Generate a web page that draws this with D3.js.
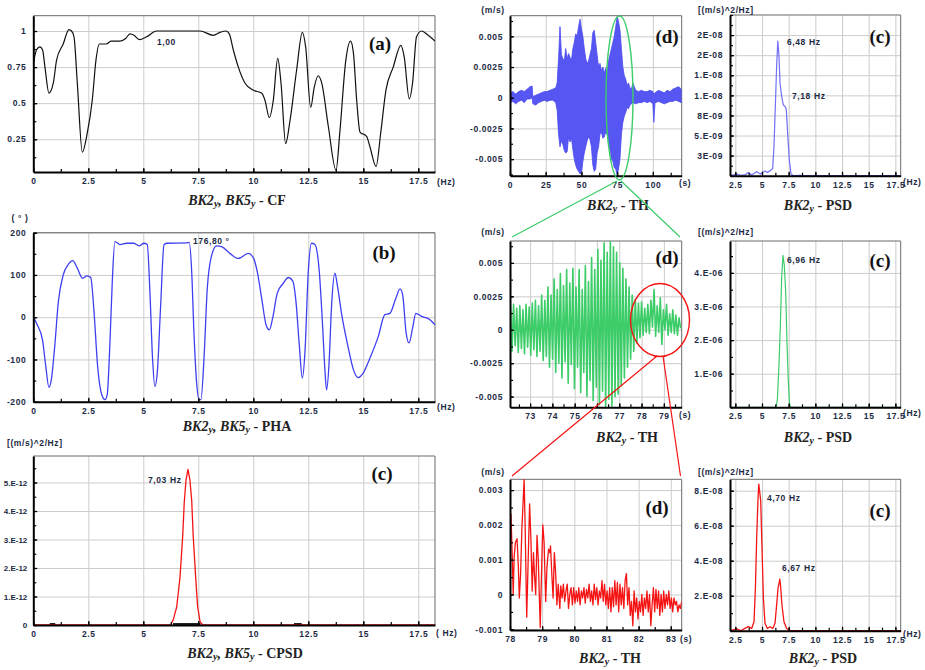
<!DOCTYPE html>
<html>
<head>
<meta charset="utf-8">
<script src="https://cdn.jsdelivr.net/npm/d3@7"></script>
<style>
  body { margin: 0; background: #fff; }
  svg { display: block; }
  .grid line { stroke: #cccccc; stroke-width: 1; }
  .frame { fill: none; stroke: #6a6a6a; stroke-width: 1; }
  .ax .domain { stroke: #000; stroke-width: 2; }
  .ax line { stroke: #000; stroke-width: 1.2; }
  .ax text, .lbl {
    font-family: "Liberation Sans", Arial, sans-serif;
    font-weight: bold; font-size: 8.5px; letter-spacing: 0.6px; fill: #1c2a44;
  }
  .ax.tight text { letter-spacing: 0; font-size: 8px; }
  .tag { font-family: "Liberation Serif", "Times New Roman", serif; font-weight: bold; font-size: 19px; fill: #111; }
  .cap { font-family: "Liberation Serif", "Times New Roman", serif; font-weight: bold; font-size: 14px; fill: #222; }
</style>
</head>
<body>
<svg id="fig" width="925" height="670"></svg>
<script>
// ---- data ----

// (a) coherence function, Hz -> CF
const cfPoints = [[0,0.775],[0.15,0.87],[0.3,0.89],[0.42,0.87],[0.53,0.75],[0.71,0.57],[0.91,0.64],[1.06,0.8],
  [1.36,0.91],[1.62,1.01],[1.74,1.0],[1.85,0.96],[2.0,0.64],[2.23,0.16],[2.45,0.29],[2.68,0.52],[2.85,0.8],
  [3.0,0.91],[3.21,0.91],[3.33,0.91],[3.53,0.93],[3.94,0.93],[4.21,0.95],[4.39,0.98],[4.58,0.97],[4.82,0.94],
  [5.15,0.96],[5.61,1.0],[7.58,1.0],[8.18,0.97],[8.48,0.99],[8.76,1.0],[8.91,0.98],[9.09,0.87],[9.32,0.75],
  [9.62,0.64],[10.0,0.59],[10.38,0.57],[10.53,0.52],[10.73,0.4],[10.91,0.52],[11.11,0.81],[11.26,0.64],
  [11.47,0.22],[11.67,0.38],[11.97,0.73],[12.23,0.99],[12.38,0.89],[12.61,0.47],[12.77,0.61],[12.95,0.69],
  [13.11,0.64],[13.41,0.34],[13.76,0.035],[13.94,0.31],[14.2,0.79],[14.42,0.93],[14.55,0.85],[14.7,0.52],
  [14.85,0.3],[15.15,0.27],[15.3,0.2],[15.58,0.06],[15.79,0.29],[16.03,0.59],[16.36,0.75],[16.71,0.9],
  [16.86,0.82],[17.09,0.53],[17.24,0.64],[17.42,0.96],[17.65,1.0],[17.95,0.97],[18.26,0.93]];

// (b) phase, Hz -> degrees
const phaPoints = [[0,0],[0.18,-18],[0.42,-54],[0.56,-113],[0.71,-166],[0.83,-144],[0.98,-65],[1.14,37],
  [1.36,100],[1.59,125],[1.79,134],[2.0,116],[2.24,92],[2.45,98],[2.61,94],[2.76,13],[2.92,-113],[3.11,-183],
  [3.26,-195],[3.36,-183],[3.48,-65],[3.59,84],[3.71,179],[3.94,172],[4.24,175],[4.55,175],[4.82,169],
  [5.03,175],[5.18,172],[5.3,61],[5.42,-97],[5.53,-164],[5.64,-128],[5.79,29],[5.94,171],[6.06,175],
  [6.97,176],[7.09,177],[7.2,108],[7.3,-34],[7.42,-152],[7.53,-195],[7.62,-195],[7.76,-97],[7.91,69],
  [8.11,147],[8.33,169],[8.56,167],[8.94,151],[9.32,139],[9.77,151],[10.0,141],[10.18,108],[10.38,45],
  [10.58,-18],[10.73,-30],[10.88,-2],[11.09,57],[11.36,80],[11.59,94],[11.79,86],[11.94,37],[12.09,-65],
  [12.23,-144],[12.35,-81],[12.5,108],[12.65,175],[12.8,172],[13.0,108],[13.14,-10],[13.26,-128],
  [13.33,-172],[13.44,-113],[13.56,29],[13.71,104],[13.82,76],[14.02,6],[14.32,-73],[14.55,-124],
  [14.77,-143],[15.0,-132],[15.3,-97],[15.68,-46],[15.98,6],[16.21,9],[16.48,45],[16.67,67],[16.79,53],
  [16.94,-34],[17.08,-61],[17.24,-26],[17.39,9],[17.65,2],[18.03,-6],[18.26,-18]];

// (c) cross PSD, Hz -> (m/s)^2/Hz
const cpsdPoints = [[0,0],[6.24,0],[6.36,0.18e-12],[6.52,0.64e-12],[6.67,1.69e-12],[6.79,3.1e-12],
  [6.86,4.27e-12],[6.94,5.08e-12],[7.03,5.46e-12],[7.12,5.08e-12],[7.2,4.38e-12],[7.27,3.1e-12],
  [7.38,1.69e-12],[7.47,0.64e-12],[7.58,0.12e-12],[7.7,0],[18.26,0]];
const cpsdDarkSpans = [[0.75,1.0],[6.35,7.6],[11.85,12.2]];

// (d) time history BK2y, full record (envelope, x1e-3 m/s)
const thTopTime  = [0,2,4,6,8,10,12,14,15.5,16,18,20,22,24,26,28,30,32,33,34,35,36,37,38,39,40,41,42,43,44,45,46,47,48,49,50,
  51,52,53,54,55,56,57,58,59,60,61,62,63,64,65,66,67,68,69,70,71,72,73,74,75,76,77,78,79,80,81,82,83,84,85,86,88,90,92,94,
  96,98,100,100.7,101.5,104,106,108,110,112,114,116,118,120];
const thTopUpper = [0.4,0.5,0.3,0.5,0.6,0.5,0.7,0.9,0.95,0.1,0.2,0.3,0.4,0.5,0.5,0.6,0.7,0.8,1.2,3.2,5.8,3.5,3.2,3.0,4.0,3.2,
  3.6,3.3,3.0,4.0,4.5,5.2,5.0,5.8,6.4,5.6,5.0,4.0,3.2,2.8,3.0,3.5,4.0,5.3,5.5,4.5,3.5,2.5,2.8,2.2,2.5,2.0,2.4,2.2,3.0,
  3.5,4.0,4.5,5.0,5.8,6.6,6.2,5.5,4.0,2.5,1.8,1.5,1.0,1.2,0.8,0.7,1.2,0.6,0.5,0.6,0.5,0.5,0.6,0.5,0.3,0.4,0.6,0.5,0.4,
  0.6,0.5,0.7,0.8,0.9,0.7];
const thTopLower = [-0.4,-0.3,-0.5,-0.3,-0.2,-0.4,-0.1,-0.1,0.0,-0.5,-0.6,-0.4,-0.3,-0.2,-0.3,-0.2,-0.2,-0.4,-1.0,-3.0,-4.0,
  -3.5,-3.8,-4.3,-4.5,-4.4,-3.2,-3.6,-3.3,-4.2,-5.0,-5.5,-5.8,-6.0,-6.2,-6.1,-5.2,-4.5,-4.0,-3.5,-3.2,-3.4,-4.0,-5.5,
  -6.0,-5.8,-4.5,-4.0,-3.0,-2.8,-3.3,-3.2,-2.8,-3.0,-3.5,-4.2,-5.0,-5.2,-5.7,-5.8,-6.3,-5.8,-5.0,-3.0,-2.0,-1.5,-1.2,
  -0.8,-0.9,-0.6,-0.5,-0.4,-0.5,-0.4,-0.4,-0.3,-0.4,-0.3,-0.5,-2.0,-0.4,-0.3,-0.4,-0.5,-0.4,-0.3,-0.3,-0.2,-0.3,-0.4];

// (d) zoom 72-80 s, [s, x1e-3 m/s]
const thMid = [[72.12,1.8],[72.19,-1.6],[72.26,1.9],[72.33,-1.2],[72.40,1.6],[72.47,-1.7],[72.54,1.8],[72.61,-1.4],
  [72.68,1.5],[72.75,-1.8],[72.82,1.9],[72.89,-1.3],[72.96,1.7],[73.03,-1.9],[73.10,2.0],[73.17,-1.5],[73.24,2.2],
  [73.31,-2.0],[73.38,1.8],[73.45,-1.6],[73.52,2.6],[73.59,-2.3],[73.66,2.2],[73.73,-2.0],[73.80,3.2],[73.87,-2.8],
  [73.94,2.6],[74.01,-2.2],[74.08,3.8],[74.15,-3.2],[74.22,3.0],[74.29,-2.5],[74.36,4.2],[74.43,-3.6],[74.50,3.3],
  [74.57,-2.4],[74.64,4.5],[74.71,-4.0],[74.78,3.5],[74.85,-2.6],[74.92,4.6],[74.99,-4.4],[75.06,3.2],[75.13,-2.8],
  [75.20,4.5],[75.27,-4.7],[75.34,3.0],[75.41,-3.2],[75.48,4.8],[75.55,-5.0],[75.62,3.6],[75.69,-3.8],[75.76,5.4],
  [75.83,-5.3],[75.90,4.5],[75.97,-4.3],[76.04,6.0],[76.11,-5.6],[76.18,5.2],[76.25,-4.6],[76.32,6.5],[76.39,-5.8],
  [76.46,5.8],[76.53,-5.2],[76.60,6.6],[76.67,-5.7],[76.74,6.2],[76.81,-5.0],[76.88,5.8],[76.95,-4.8],[77.02,5.0],
  [77.09,-4.2],[77.16,4.6],[77.23,-3.6],[77.30,3.8],[77.37,-2.8],[77.44,3.2],[77.51,-2.2],[77.58,2.6],[77.65,-1.6],
  [77.72,2.3],[77.79,-1.0],[77.86,2.0],[77.93,-0.6],[78.00,2.1],[78.07,-0.4],[78.14,1.6],[78.21,-0.2],[78.28,1.9],
  [78.35,-0.3],[78.42,2.2],[78.49,0.2],[78.56,3.0],[78.63,-0.5],[78.70,1.8],[78.77,-0.2],[78.84,2.4],[78.91,-1.1],
  [78.98,1.5],[79.05,0.0],[79.12,1.9],[79.19,-0.4],[79.26,1.2],[79.33,-0.2],[79.40,1.5],[79.47,-0.3],[79.54,1.1],
  [79.61,-0.4],[79.68,0.9],[79.75,0.1]];

// (d) zoom 78-83.3 s, [s, x1e-3 m/s]
const thLow = [[78.0,1.2],[78.03,2.3],[78.07,1.1],[78.1,0.0],[78.13,1.1],[78.17,1.5],[78.22,1.6],[78.26,0.8],[78.29,-0.1],
  [78.33,0.6],[78.37,1.9],[78.44,3.3],[78.47,2.0],[78.52,-0.65],[78.56,0.8],[78.61,2.6],[78.65,1.6],[78.69,0.1],
  [78.73,1.2],[78.76,0.6],[78.8,0.0],[78.84,1.7],[78.88,1.0],[78.94,-0.95],[78.98,0.6],[79.02,2.0],[79.06,1.5],
  [79.11,-0.2],[79.15,0.8],[79.2,1.3],[79.24,1.2],[79.26,1.4],[79.3,0.6],[79.34,-0.1],[79.38,1.2],[79.42,0.6],
  [79.46,-0.3],[79.5,0.3],[79.55,-0.4],[79.58,0.25],[79.62,-0.1],[79.66,0.3],[79.7,-0.2],[79.74,0.1],[79.78,0.3],
  [79.82,-0.4],[79.86,0.0],[79.9,0.2],[79.94,-0.3],[79.98,0.2],[80.02,-0.25],[80.06,0.1],[80.1,-0.2],[80.14,0.2],
  [80.18,-0.3],[80.22,0.1],[80.26,-0.1],[80.3,0.2],[80.34,-0.25],[80.38,0.15],[80.42,-0.1],[80.46,0.3],[80.5,-0.2],
  [80.54,0.1],[80.58,-0.3],[80.62,0.3],[80.66,-0.15],[80.7,0.2],[80.74,-0.3],[80.78,0.1],[80.82,-0.1],[80.86,0.4],
  [80.9,-0.2],[80.94,0.3],[80.98,-0.3],[81.02,0.1],[81.06,-0.4],[81.1,0.2],[81.14,-0.5],[81.18,0.2],[81.22,-0.35],
  [81.26,0.4],[81.3,-0.3],[81.34,0.35],[81.38,-0.5],[81.42,0.3],[81.46,-0.3],[81.5,0.2],[81.54,-0.4],[81.58,0.4],
  [81.62,0.6],[81.66,-0.3],[81.7,0.2],[81.74,-0.6],[81.78,-0.2],[81.82,-0.9],[81.86,0.1],[81.9,-0.5],[81.94,-0.1],
  [81.98,-0.7],[82.02,-0.2],[82.06,-0.5],[82.1,0.0],[82.14,-0.6],[82.18,-0.1],[82.22,-0.4],[82.26,0.1],[82.3,-0.5],
  [82.34,0.0],[82.38,-0.9],[82.42,-0.3],[82.46,0.2],[82.5,-0.5],[82.54,0.15],[82.58,-0.4],[82.62,0.1],[82.66,-0.6],
  [82.7,0.0],[82.74,-0.5],[82.78,0.1],[82.82,-0.4],[82.86,0.0],[82.9,-0.3],[82.94,0.1],[82.98,-0.4],[83.02,-0.1],
  [83.06,-0.5],[83.1,-0.1],[83.14,-0.3],[83.18,-0.2],[83.22,-0.5],[83.26,-0.3],[83.3,-0.4],[83.34,-0.2]];

// PSDs of BK2y, Hz -> (m/s)^2/Hz
const psdTop = [[2.0,0],[2.3,0.1e-9],[2.63,0.2e-9],[3.0,0.05e-9],[3.4,0.1e-9],[3.72,0.4e-9],[4.03,0.1e-9],[4.5,0.5e-9],
  [4.85,0.2e-9],[5.28,0.6e-9],[5.5,0.4e-9],[5.75,0.6e-9],[6.0,0.9e-9],[6.12,3.6e-9],[6.25,8.6e-9],[6.37,13.6e-9],
  [6.48,16.75e-9],[6.59,14.9e-9],[6.69,11.5e-9],[6.84,9.9e-9],[7.0,8.8e-9],[7.18,8.6e-9],[7.28,8.2e-9],[7.4,5.3e-9],
  [7.56,2.0e-9],[7.72,0.2e-9],[7.94,0],[8.5,0.05e-9],[9,0],[18,0]];
const psdMid = [[2,0],[6.31,0],[6.44,0.22e-6],[6.59,1.26e-6],[6.72,2.45e-6],[6.84,3.83e-6],[6.96,4.52e-6],
  [7.09,4.23e-6],[7.22,3.44e-6],[7.34,1.95e-6],[7.47,0.76e-6],[7.59,0.07e-6],[7.72,0],[18,0]];
const psdLow = [[2.0,0],[2.63,0.1e-8],[3.0,0],[3.4,0.13e-8],[3.72,0.23e-8],[4.03,0.13e-8],[4.25,0.51e-8],[4.38,2.4e-8],
  [4.5,5.3e-8],[4.63,7.6e-8],[4.7,8.38e-8],[4.88,7.4e-8],[5.0,4.7e-8],[5.13,1.85e-8],[5.28,0.42e-8],[5.5,0.13e-8],
  [5.75,0.23e-8],[6.0,0.13e-8],[6.22,0.42e-8],[6.37,1.47e-8],[6.5,2.42e-8],[6.67,2.94e-8],[6.75,2.5e-8],
  [6.87,1.47e-8],[7.06,0.51e-8],[7.31,0.13e-8],[7.63,0],[18,0]];

// tick values and labels
const freqTicks = [0,2.5,5,7.5,10,12.5,15,17.5];
const freqLabels = ['0','2.5','5','7.5','10','12.5','15','17.5'];
const psdFreqTicks = [2.5,5,7.5,10,12.5,15,17.5];
const psdFreqLabels = ['2.5','5','7.5','10','12.5','15','17.5'];
const cfTicks = [0.25,0.5,0.75,1], cfLabels = ['0.25','0.5','0.75','1'];
const phaTicks = [-200,-100,0,100,200], phaLabels = ['-200','-100','0','100','200'];
const cpsdTicks = [0,1e-12,2e-12,3e-12,4e-12,5e-12];
const cpsdLabels = ['0','1.E-12','2.E-12','3.E-12','4.E-12','5.E-12'];
const thTicks = [-5,-2.5,0,2.5,5], thLabels = ['-0.005','-0.0025','0','0.0025','0.005'];
const thTopTimeTicks = [0,25,50,75,100], thTopTimeLabels = ['0','25','50','75','100'];
const thMidTimeTicks = [73,74,75,76,77,78,79], thMidTimeLabels = ['73','74','75','76','77','78','79'];
const thLowTicks = [-1,0,1,2,3], thLowLabels = ['-0.001','0','0.001','0.002','0.003'];
const thLowTimeTicks = [78,79,80,81,82,83], thLowTimeLabels = ['78','79','80','81','82','83'];
const psdTopTicks = [2.5e-9,5e-9,7.5e-9,10e-9,12.5e-9,15e-9,17.5e-9];
const psdTopLabels = ['3E-09','5.E-09','8E-09','1.E-08','1.E-08','2E-08','2E-08'];
const psdMidTicks = [1e-6,2e-6,3e-6,4e-6], psdMidLabels = ['1.E-06','2.E-06','3.E-06','4.E-06'];
const psdLowTicks = [2e-8,4e-8,6e-8,8e-8], psdLowLabels = ['2.E-08','4.E-08','6.E-08','8.E-08'];

const BLUE = '#3f3ff2', BLUE_LT = '#6f6ff8', GREEN = '#3ccc68', RED = '#f51414';

// ---- drawing ----
const svg = d3.select('#fig');
let clipCount = 0;

function panel(p) {
  const x = d3.scaleLinear().domain(p.xDomain).range([p.left, p.right]);
  const y = d3.scaleLinear().domain(p.yDomain).range([p.bottom, p.top]);
  const w = p.right - p.left, h = p.bottom - p.top;
  const g = svg.append('g');

  g.append('g').attr('class', 'grid')
    .attr('transform', `translate(0,${p.bottom})`)
    .call(d3.axisBottom(x).tickValues(p.xTicks).tickSize(-h).tickFormat(''))
    .call(s => s.select('.domain').remove());
  g.append('g').attr('class', 'grid')
    .attr('transform', `translate(${p.left},0)`)
    .call(d3.axisLeft(y).tickValues(p.yTicks).tickSize(-w).tickFormat(''))
    .call(s => s.select('.domain').remove());
  g.append('path').attr('class', 'frame')
    .attr('d', `M${p.left},${p.top}H${p.right}V${p.bottom}`);

  const id = 'clip' + (clipCount++);
  g.append('clipPath').attr('id', id).append('rect')
    .attr('x', p.left).attr('y', p.top - 1).attr('width', w).attr('height', h + 2);
  const plot = g.append('g').attr('clip-path', `url(#${id})`);

  return {p, g, plot, x, y};
}

function axes(P) {
  const {p, g, x, y} = P;
  const xMinor = d3.range(Math.ceil(p.xDomain[0] / p.xMinor), Math.floor(p.xDomain[1] / p.xMinor) + 1).map(k => k * p.xMinor);
  const yMinor = d3.range(Math.ceil(p.yDomain[0] / p.yMinor), Math.floor(p.yDomain[1] / p.yMinor) + 1).map(k => k * p.yMinor);

  g.append('g').attr('class', 'ax').attr('transform', `translate(0,${p.bottom})`)
    .call(d3.axisBottom(x).tickValues(xMinor).tickSize(-3).tickFormat(''))
    .call(s => s.select('.domain').remove());
  g.append('g').attr('class', 'ax').attr('transform', `translate(${p.left},0)`)
    .call(d3.axisLeft(y).tickValues(yMinor).tickSize(-3).tickFormat(''))
    .call(s => s.select('.domain').remove());

  g.append('g').attr('class', 'ax').attr('transform', `translate(0,${p.bottom})`)
    .call(d3.axisBottom(x).tickValues(p.xTicks).tickFormat((d, i) => p.xLabels[i])
      .tickSizeInner(-4).tickSizeOuter(0).tickPadding(6));
  g.append('g').attr('class', 'ax' + (p.tightY ? ' tight' : '')).attr('transform', `translate(${p.left},0)`)
    .call(d3.axisLeft(y).tickValues(p.yTicks).tickFormat((d, i) => p.yLabels[i])
      .tickSizeInner(-4).tickSizeOuter(0).tickPadding(p.tightY ? 6 : 7));
}

function lbl(x, y, s, anchor) {
  svg.append('text').attr('class', 'lbl').attr('x', x).attr('y', y)
    .attr('dominant-baseline', 'central').attr('text-anchor', anchor || 'start').text(s);
}
function tag(cx, cy, s) {
  svg.append('text').attr('class', 'tag').attr('x', cx).attr('y', cy)
    .attr('dominant-baseline', 'central').attr('text-anchor', 'middle').text(s);
}
// caption like "BK2y, BK5y - CF" with italic names and subscript y
function caption(cx, cy, names, suffix) {
  const t = svg.append('text').attr('class', 'cap').attr('x', cx).attr('y', cy)
    .attr('dominant-baseline', 'central').attr('text-anchor', 'middle');
  names.forEach((n, i) => {
    const s = t.append('tspan').attr('font-style', 'italic').text((i ? ', ' : '') + n);
    if (i) s.attr('dy', -3);
    t.append('tspan').attr('font-style', 'italic').attr('font-size', '10px').attr('dy', 3).text('y');
  });
  t.append('tspan').attr('dy', -3).text(' - ' + suffix);
}

function line(P, pts, color, width, curve) {
  P.plot.append('path').datum(pts)
    .attr('fill', 'none').attr('stroke', color).attr('stroke-width', width)
    .attr('stroke-linejoin', 'round')
    .attr('d', d3.line().x(d => P.x(d[0])).y(d => P.y(d[1])).curve(curve || d3.curveLinear));
}

// (a) CF
const A = panel({left: 33.3, right: 435, top: 15.7, bottom: 172, xDomain: [0, 18.26], yDomain: [0.023, 1.106],
  xTicks: freqTicks, xLabels: freqLabels, yTicks: cfTicks, yLabels: cfLabels, xMinor: 1.25, yMinor: 0.125});
line(A, cfPoints, '#111', 1.2, d3.curveMonotoneX);
axes(A);
lbl(437, 182, '(Hz)'); lbl(157, 42, '1,00');
tag(380, 43, '(a)');
caption(237, 200, ['BK2', 'BK5'], 'CF');

// (b) PHA
const B = panel({left: 33.3, right: 435, top: 232.7, bottom: 401.7, xDomain: [0, 18.26], yDomain: [-200, 200],
  xTicks: freqTicks, xLabels: freqLabels, yTicks: phaTicks, yLabels: phaLabels, xMinor: 1.25, yMinor: 50});
line(B, phaPoints, BLUE, 1.3, d3.curveMonotoneX);
axes(B);
lbl(437, 407, '(Hz)'); lbl(20, 218, '( ° )', 'middle'); lbl(193, 241, '176,80 °');
tag(384, 252, '(b)');
caption(237, 426, ['BK2', 'BK5'], 'PHA');

// (c) CPSD
const C = panel({left: 33.3, right: 435, top: 456, bottom: 625, xDomain: [0, 18.26], yDomain: [0, 5.93e-12],
  xTicks: freqTicks, xLabels: freqLabels, yTicks: cpsdTicks, yLabels: cpsdLabels, xMinor: 1.25, yMinor: 0.5e-12,
  tightY: true});
cpsdDarkSpans.forEach(s => line(C, [[s[0], 0], [s[1], 0]], '#222', 4));
line(C, cpsdPoints, RED, 1.3);
axes(C);
lbl(436, 633, '( Hz)'); lbl(7, 443, '[(m/s)^2/Hz]'); lbl(148, 480, '7,03 Hz');
tag(382, 473, '(c)');
caption(245, 653, ['BK2', 'BK5'], 'CPSD');

// (d) TH full record
const D1 = panel({left: 510, right: 681.7, top: 15.7, bottom: 175.7, xDomain: [0, 120.2], yDomain: [-6.35, 6.68],
  xTicks: thTopTimeTicks, xLabels: thTopTimeLabels, yTicks: thTicks, yLabels: thLabels, xMinor: 12.5, yMinor: 1.25});
D1.plot.append('path')
  .datum(thTopTime.map((t, i) => [t, thTopUpper[i], thTopLower[i]]))
  .attr('fill', '#5656f2').attr('stroke', '#4a4af0').attr('stroke-width', 0.8)
  .attr('d', d3.area().x(d => D1.x(d[0])).y0(d => D1.y(d[2])).y1(d => D1.y(d[1])));
axes(D1);
lbl(493, 10, '(m/s)', 'middle'); lbl(679, 183, '(s)');
tag(667, 36, '(d)');
caption(618, 205, ['BK2'], 'TH');

// (d) TH 72-80 s
const D2 = panel({left: 510, right: 681.7, top: 241, bottom: 407.3, xDomain: [72.1, 79.8], yDomain: [-5.8, 6.64],
  xTicks: thMidTimeTicks, xLabels: thMidTimeLabels, yTicks: thTicks, yLabels: thLabels, xMinor: 0.5, yMinor: 1.25});
line(D2, thMid, GREEN, 1.6);
axes(D2);
lbl(493, 232, '(m/s)', 'middle'); lbl(679, 415, '(s)');
tag(667, 257, '(d)');
caption(627, 437, ['BK2'], 'TH');

// (d) TH 78-83 s
const D3 = panel({left: 510, right: 681.7, top: 479.3, bottom: 630, xDomain: [78, 83.34], yDomain: [-1.02, 3.31],
  xTicks: thLowTimeTicks, xLabels: thLowTimeLabels, yTicks: thLowTicks, yLabels: thLowLabels, xMinor: 0.5, yMinor: 0.5});
line(D3, thLow, RED, 1.3);
axes(D3);
lbl(493, 472, '(m/s)', 'middle'); lbl(680, 639, '(s)');
tag(657, 507, '(d)');
caption(610, 658, ['BK2'], 'TH');

// PSDs
const E1 = panel({left: 730, right: 900.7, top: 15, bottom: 175.7, xDomain: [2, 18], yDomain: [0, 2.0e-8],
  xTicks: psdFreqTicks, xLabels: psdFreqLabels, yTicks: psdTopTicks, yLabels: psdTopLabels, xMinor: 1.25, yMinor: 1.25e-9});
line(E1, psdTop, BLUE_LT, 1.2);
axes(E1);
lbl(698, 10, '[(m/s)^2/Hz]'); lbl(903, 182, '(Hz)');
lbl(787, 42, '6,48 Hz'); lbl(792, 96, '7,18 Hz');
tag(880, 36, '(c)');
caption(818, 205, ['BK2'], 'PSD');

const E2 = panel({left: 730, right: 900.7, top: 241, bottom: 407.3, xDomain: [2, 18], yDomain: [0, 4.95e-6],
  xTicks: psdFreqTicks, xLabels: psdFreqLabels, yTicks: psdMidTicks, yLabels: psdMidLabels, xMinor: 1.25, yMinor: 0.5e-6});
line(E2, psdMid, GREEN, 1.2);
axes(E2);
lbl(698, 232, '[(m/s)^2/Hz]'); lbl(903, 413, '(Hz)');
lbl(787, 260, '6,96 Hz');
tag(880, 260, '(c)');
caption(818, 437, ['BK2'], 'PSD');

const E3 = panel({left: 730, right: 900.7, top: 479.3, bottom: 630.7, xDomain: [2, 18], yDomain: [0, 8.65e-8],
  xTicks: psdFreqTicks, xLabels: psdFreqLabels, yTicks: psdLowTicks, yLabels: psdLowLabels, xMinor: 1.25, yMinor: 1e-8});
line(E3, psdLow, RED, 1.3);
axes(E3);
lbl(698, 472, '[(m/s)^2/Hz]'); lbl(903, 634, '(Hz)');
lbl(767, 498, '4,70 Hz'); lbl(782, 568, '6,67 Hz');
tag(880, 510, '(c)');
caption(823, 658, ['BK2'], 'PSD');

// zoom markers linking the time histories
svg.append('ellipse').attr('cx', 619.5).attr('cy', 98).attr('rx', 13.5).attr('ry', 82)
  .attr('fill', 'none').attr('stroke', GREEN).attr('stroke-width', 1.4);
svg.append('path').attr('d', 'M617,181L512,237M621,181L680,237')
  .attr('fill', 'none').attr('stroke', GREEN).attr('stroke-width', 1.2);
svg.append('ellipse').attr('cx', 660).attr('cy', 320).attr('rx', 29.5).attr('ry', 36.5)
  .attr('fill', 'none').attr('stroke', RED).attr('stroke-width', 1.4);
svg.append('path').attr('d', 'M657,356L512,476M663,356L680.5,476')
  .attr('fill', 'none').attr('stroke', RED).attr('stroke-width', 1.2);
</script>
</body>
</html>
